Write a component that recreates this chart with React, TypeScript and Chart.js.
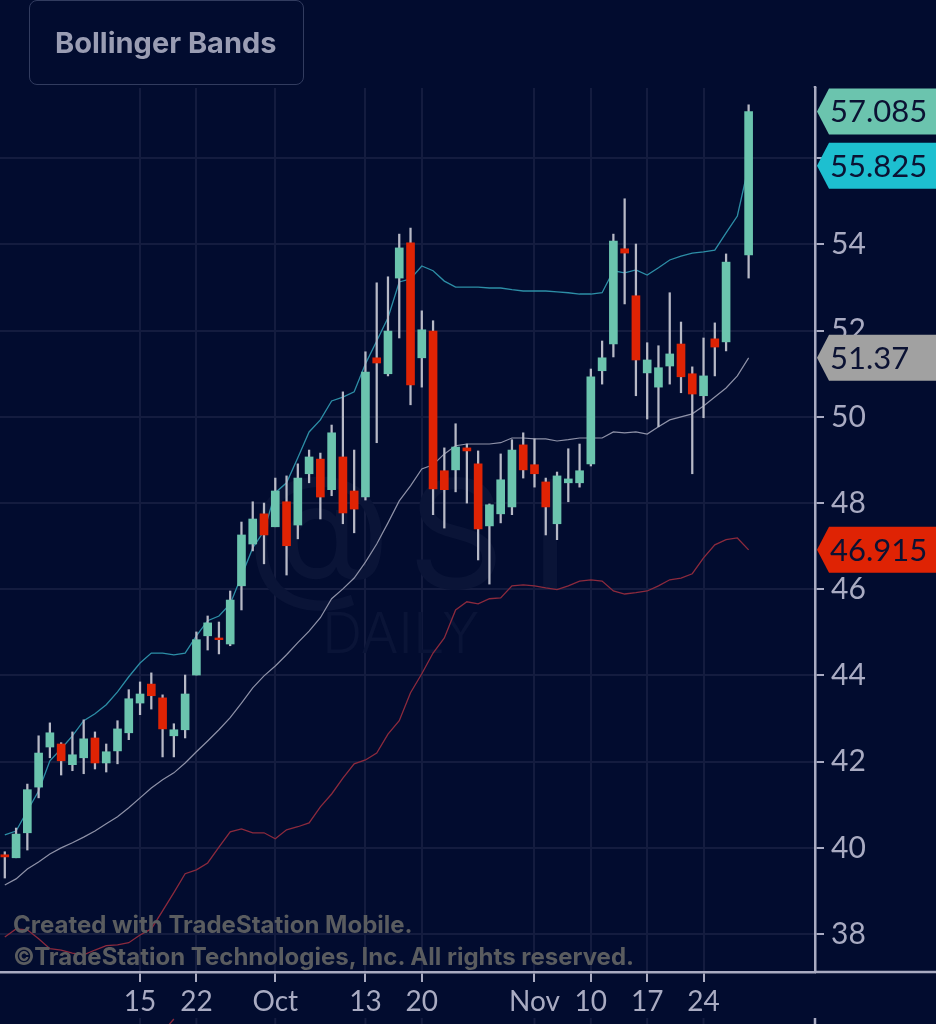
import { useEffect, useRef } from "react";
import { Chart, registerables } from "chart.js";

Chart.register(...registerables);

const BG = "#020c2f";
const GRID = "#141c3f";
const AXIS = "#a9abc2";
const UP = "#6bc4ae";
const DOWN = "#df2304";
const FONT = "Lato, 'Noto Sans', sans-serif";
const HEAVY = "Inter, 'Noto Sans', sans-serif";

// 15 Sep sits at bar 12; bar 65 is the Thanksgiving slot, bands carry on but there is no candle
const tickBars = [12, 17, 24, 32, 37, 47, 52, 57, 62];
const tickNames = ["15", "22", "Oct", "13", "20", "Nov", "10", "17", "24"];

const opens = [
  39.84, 39.77, 40.35, 41.41, 42.34, 42.41, 41.93, 42.09, 42.55, 41.97,
  42.25, 42.67, 43.36, 43.8, 43.48, 42.6, 42.74, 44.01, 44.92, 44.87,
  44.73, 46.08, 47.05, 47.75, 47.45, 48.03, 47.49, 48.68, 49.02, 48.31,
  49.07, 48.28, 48.14, 51.37, 51.0, 53.22, 54.04, 51.37, 51.99, 48.75,
  48.77, 49.28, 48.91, 47.47, 47.75, 47.91, 49.35, 48.89, 48.49, 47.52,
  48.47, 48.47, 48.91, 51.07, 51.69, 53.9, 52.81, 51.02, 50.69, 51.18,
  51.69, 51.0, 50.49, 51.81, 51.74, null, 53.76,
];
const closes = [
  39.79, 40.32, 41.35, 42.2, 42.67, 42.02, 42.16, 42.53, 41.97, 42.23,
  42.76, 43.46, 43.57, 43.53, 42.76, 42.74, 43.57, 44.83, 45.22, 44.83,
  45.75, 47.26, 47.63, 47.26, 48.28, 47.01, 48.58, 49.07, 48.14, 49.63,
  47.77, 47.86, 51.04, 51.25, 51.99, 53.92, 50.74, 52.02, 48.33, 48.31,
  49.3, 49.21, 47.4, 47.96, 48.54, 49.23, 48.77, 48.68, 47.91, 48.63,
  48.56, 48.75, 50.93, 51.37, 54.08, 53.8, 51.32, 51.32, 51.14, 51.46,
  50.93, 50.53, 50.95, 51.62, 53.59, null, 57.085,
];
const highs = [
  39.91, 40.46, 41.48, 42.6, 42.9, 42.44, 42.69, 42.97, 42.69, 42.41,
  42.95, 43.67, 43.85, 44.06, 43.55, 42.88, 44.01, 45.01, 45.38, 45.24,
  45.96, 47.56, 48.03, 48.0, 48.58, 48.63, 48.91, 49.23, 49.16, 49.81,
  50.58, 49.23, 51.51, 53.11, 53.25, 54.24, 54.38, 52.46, 52.23, 49.28,
  49.84, 49.37, 49.21, 47.98, 49.14, 49.47, 49.63, 49.49, 48.58, 48.72,
  49.26, 49.37, 51.11, 51.76, 54.24, 55.06, 54.01, 51.72, 51.65, 52.88,
  52.2, 51.16, 51.83, 52.18, 53.78, null, 57.24,
];
const lows = [
  39.3, 39.77, 39.95, 41.16, 42.09, 41.69, 41.79, 41.72, 41.83, 41.76,
  41.95, 42.51, 43.09, 43.22, 42.11, 42.11, 42.55, 44.01, 44.59, 44.5,
  44.69, 45.52, 46.89, 46.59, 47.45, 46.33, 47.17, 48.47, 47.63, 48.17,
  47.52, 47.31, 48.07, 49.4, 50.95, 51.83, 50.28, 50.69, 47.73, 47.42,
  48.26, 48.0, 46.68, 46.12, 47.54, 47.73, 48.58, 48.37, 47.26, 47.15,
  48.03, 48.37, 48.86, 50.76, 51.39, 52.62, 50.49, 49.95, 49.77, 50.76,
  50.56, 48.68, 49.98, 50.95, 51.53, null, 53.22,
];

const upperBand = [
  40.3, 40.39, 40.86, 41.32, 42.02, 42.3, 42.6, 42.95, 43.11, 43.32,
  43.62, 43.97, 44.29, 44.52, 44.52, 44.48, 44.52, 44.92, 45.27, 45.38,
  45.66, 46.31, 46.96, 47.35, 48.24, 48.47, 49.05, 49.65, 49.93, 50.37,
  50.46, 50.58, 51.23, 51.76, 52.3, 53.13, 53.2, 53.5, 53.39, 53.15,
  53.01, 53.01, 53.01, 52.99, 52.99, 52.95, 52.92, 52.92, 52.92, 52.9,
  52.88, 52.85, 52.85, 52.88, 53.39, 53.34, 53.41, 53.29, 53.46, 53.64,
  53.73, 53.8, 53.83, 53.87, 54.27, 54.66, 55.825,
];
const middleBand = [
  39.14, 39.28, 39.51, 39.67, 39.86, 40.0, 40.12, 40.25, 40.39, 40.56,
  40.72, 40.93, 41.16, 41.39, 41.58, 41.74, 41.97, 42.23, 42.48, 42.74,
  43.02, 43.36, 43.71, 43.99, 44.22, 44.48, 44.76, 45.03, 45.34, 45.78,
  46.01, 46.26, 46.63, 47.05, 47.54, 48.05, 48.4, 48.79, 48.89, 49.14,
  49.33, 49.37, 49.37, 49.37, 49.4, 49.51, 49.51, 49.49, 49.49, 49.44,
  49.47, 49.51, 49.51, 49.51, 49.65, 49.63, 49.65, 49.6, 49.77, 49.93,
  50.0, 50.07, 50.25, 50.46, 50.67, 50.95, 51.37,
];
const lowerBand = [
  37.93, 38.12, 38.1, 37.89, 37.66, 37.63, 37.56, 37.52, 37.63, 37.73,
  37.75, 37.8, 37.98, 38.12, 38.54, 38.96, 39.4, 39.49, 39.65, 40.02,
  40.37, 40.44, 40.35, 40.35, 40.21, 40.42, 40.49, 40.58, 40.95, 41.25,
  41.62, 41.95, 42.04, 42.2, 42.64, 42.95, 43.6, 44.04, 44.52, 44.87,
  45.52, 45.71, 45.66, 45.78, 45.8, 46.08, 46.1, 46.08, 46.03, 45.99,
  46.08, 46.19, 46.22, 46.19, 45.96, 45.89, 45.92, 45.96, 46.08, 46.22,
  46.26, 46.36, 46.73, 47.03, 47.15, 47.19, 46.915,
];

// top edge of the next panel, only a sliver of it is on screen
const nextPanelBars = [14, 15];
const nextPanelValues = [35.72, 36.03];

const last = (a: number[]) => a[a.length - 1];

const tags = [
  { value: last(closes as number[]), color: UP },
  { value: last(upperBand), color: "#1dbfd0" },
  { value: last(middleBand), color: "#a1a1a1" },
  { value: last(lowerBand), color: DOWN },
];

const bars = opens.map((_, i) => i).filter((i) => opens[i] !== null);
const series = (values: number[]) => values.map((y, x) => ({ x, y }));

const chartDress = {
  id: "chartDress",
  beforeDatasetsDraw(chart: any) {
    const { ctx } = chart;
    ctx.save();
    ctx.fillStyle = "#0a1437";
    ctx.textBaseline = "alphabetic";
    ctx.font = `400 150px ${HEAVY}`;
    ctx.fillText("@", 246, 582);
    ctx.fillText("S", 408, 588);
    ctx.fillText("I", 530, 588);
    ctx.font = `300 56px ${HEAVY}`;
    ctx.fillText("DAILY", 322, 653);
    ctx.restore();
  },
  afterDraw(chart: any) {
    const { ctx, chartArea, scales, width, height } = chart;
    ctx.save();

    // axis lines run on past the plot: x under the price column, y a little above the top
    ctx.strokeStyle = AXIS;
    ctx.lineWidth = 2.5;
    ctx.beginPath();
    ctx.moveTo(chartArea.right, chartArea.bottom);
    ctx.lineTo(width, chartArea.bottom);
    ctx.moveTo(chartArea.right, chartArea.top - 2);
    ctx.lineTo(chartArea.right, chartArea.top);
    ctx.stroke();

    // next panel starts at the very bottom
    const panelTop = 1018;
    ctx.strokeStyle = GRID;
    ctx.lineWidth = 2;
    tickBars.forEach((b) => {
      const x = scales.x.getPixelForValue(b);
      ctx.beginPath();
      ctx.moveTo(x, panelTop);
      ctx.lineTo(x, height);
      ctx.stroke();
    });
    ctx.strokeStyle = AXIS;
    ctx.lineWidth = 2.5;
    ctx.beginPath();
    ctx.moveTo(chartArea.right, panelTop);
    ctx.lineTo(chartArea.right, height);
    ctx.stroke();

    // last value tags
    tags.forEach((t) => {
      const y = scales.y.getPixelForValue(t.value);
      ctx.fillStyle = t.color;
      ctx.beginPath();
      ctx.moveTo(817, y);
      ctx.lineTo(829, y - 23);
      ctx.lineTo(width, y - 23);
      ctx.lineTo(width, y + 23);
      ctx.lineTo(829, y + 23);
      ctx.closePath();
      ctx.fill();
      ctx.fillStyle = "#0b1233";
      ctx.font = `400 31px ${FONT}`;
      ctx.textBaseline = "middle";
      ctx.fillText(String(t.value), 830, y + 1);
    });
    ctx.restore();
  },
};

export default function App() {
  const canvasRef = useRef<HTMLCanvasElement>(null);

  useEffect(() => {
    document.body.style.margin = "0";
    document.body.style.background = BG;
    if (!canvasRef.current) return;
    const chart = new Chart(canvasRef.current, {
      type: "bar",
      data: {
        datasets: [
          {
            type: "line",
            data: series(upperBand),
            borderColor: "#2d8ea6",
            borderWidth: 1.3,
            pointRadius: 0,
            order: 5,
          },
          {
            type: "line",
            data: series(middleBand),
            borderColor: "#8f92a8",
            borderWidth: 1.2,
            pointRadius: 0,
            order: 5,
          },
          {
            type: "line",
            data: series(lowerBand),
            borderColor: "#8c2a3d",
            borderWidth: 1.3,
            pointRadius: 0,
            order: 5,
          },
          {
            type: "line",
            data: nextPanelBars.map((x, i) => ({ x, y: nextPanelValues[i] })),
            borderColor: "#8c2a3d",
            borderWidth: 1.3,
            pointRadius: 0,
            clip: false,
            order: 5,
          },
          {
            data: bars.map((i) => ({ x: i, y: [lows[i], highs[i]] })),
            backgroundColor: "#b7b9c6",
            barThickness: 1.6,
            grouped: false,
            order: 2,
          },
          {
            data: bars.map((i) => ({ x: i, y: [opens[i], closes[i]] })),
            backgroundColor: bars.map((i) =>
              closes[i]! >= opens[i]! ? UP : DOWN,
            ),
            barThickness: 8,
            grouped: false,
            order: 1,
          },
        ],
      } as any,
      options: {
        animation: false,
        responsive: false,
        layout: { padding: { top: 88, left: 0, right: 0, bottom: 0 } },
        plugins: { legend: { display: false }, tooltip: { enabled: false } },
        scales: {
          x: {
            type: "linear",
            offset: false,
            min: -0.426,
            max: 71.89,
            afterFit: (s: any) => {
              s.height = 52;
            },
            afterBuildTicks: (s: any) => {
              s.ticks = tickBars.map((value) => ({ value }));
            },
            grid: {
              offset: false,
              color: GRID,
              lineWidth: 2,
              tickColor: AXIS,
              tickLength: 10,
              tickWidth: 2,
            },
            border: { color: AXIS, width: 2.5 },
            ticks: {
              autoSkip: false,
              maxRotation: 0,
              padding: 3,
              color: AXIS,
              font: { family: FONT, size: 28 },
              callback: (v: any) => tickNames[tickBars.indexOf(Number(v))],
            },
          },
          y: {
            position: "right",
            min: 37.12,
            max: 57.63,
            afterFit: (s: any) => {
              s.width = 121;
            },
            grid: {
              color: GRID,
              lineWidth: 2,
              tickColor: AXIS,
              tickLength: 9,
              tickWidth: 2,
            },
            border: { color: AXIS, width: 2.5 },
            ticks: {
              stepSize: 2,
              includeBounds: false,
              padding: 7,
              color: AXIS,
              font: { family: FONT, size: 30 },
            },
          },
        },
      },
      plugins: [chartDress],
    } as any);
    return () => chart.destroy();
  }, []);

  const note = {
    position: "absolute",
    left: 13,
    color: "#5a5c5f",
    font: `700 24px ${HEAVY}`,
    whiteSpace: "nowrap",
  } as const;

  return (
    <div
      style={{
        position: "relative",
        width: 936,
        height: 1024,
        background: BG,
        overflow: "hidden",
      }}
    >
      <canvas ref={canvasRef} width={936} height={1024} style={{ display: "block" }} />
      <div
        style={{
          position: "absolute",
          left: 29,
          top: 0,
          width: 273,
          height: 83,
          border: "1.5px solid #323c5f",
          borderRadius: 8,
          boxSizing: "content-box",
          color: "#9a9db3",
          font: `700 29px ${HEAVY}`,
          lineHeight: "84px",
          textIndent: 25,
        }}
      >
        Bollinger Bands
      </div>
      <div style={{ ...note, top: 910 }}>Created with TradeStation Mobile.</div>
      <div style={{ ...note, top: 942 }}>
        ©TradeStation Technologies, Inc. All rights reserved.
      </div>
    </div>
  );
}
